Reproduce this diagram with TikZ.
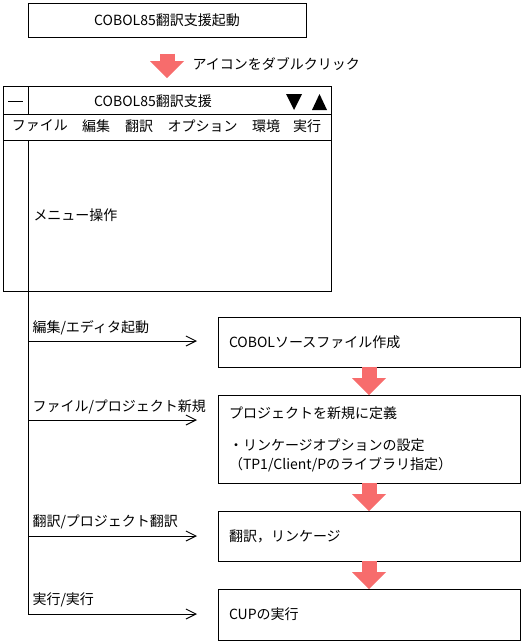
\documentclass[tikz,border=0pt]{standalone}
\usepackage{fontspec}
\newfontfamily\jpfont{Noto Sans CJK JP}
\usetikzlibrary{positioning,arrows.meta}
\definecolor{arrowred}{RGB}{247,108,108}

\begin{document}
\begin{tikzpicture}[x=1pt, y=-1pt, line width=1pt, inner sep=2pt,
    font=\jpfont\fontsize{14}{19}\selectfont,
    box/.style={draw, text width=280pt, inner xsep=11pt, inner ysep=0pt, outer sep=0pt, align=left, minimum height=50pt},
    bigarrow/.style={draw=arrowred, line width=15pt, -{Triangle[length=17pt,width=34pt,line width=0pt]}},
    menuarrow/.style={-{Straight Barb[length=10pt,width=10pt]}, shorten >=21pt}]
    \useasboundingbox (0,0) rectangle (524,643);

    % Start
    \node[draw, minimum width=278pt, minimum height=34pt] (start) at (167,20) {COBOL85翻訳支援起動};
    \node[anchor=west] (dblclick) at (190,64) {アイコンをダブルクリック};

    % Window
    \node[draw, anchor=north west, inner sep=0pt, outer sep=0pt, minimum width=328pt, minimum height=205pt] (win) at (3,86) {};
    \draw[bigarrow, shorten <=16pt, shorten >=8pt] (start.south) -- (win.north);
    \draw (3,114) -- (331,114);
    \draw (3,140) -- (331,140);
    \draw (28,86) -- (28,114);
    \node (sysmenu) at (16,101) {\rule[0pt]{15pt}{1pt}};
    \node (title) at (153,101) {COBOL85翻訳支援};
    \fill (286,94) -- (302,94) -- (294,110) -- cycle;
    \fill (319.5,94) -- (312,110) -- (327,110) -- cycle;
    \node (mfile) at (40,126) {ファイル};
    \node (medit) at (96,126) {編集};
    \node (mtrans) at (139,126) {翻訳};
    \node (mopt) at (202.5,126) {オプション};
    \node (menv) at (266,126) {環境};
    \node (mrun) at (307,126) {実行};
    \node[anchor=west] (menuop) at (31,215) {メニュー操作};

    % Steps
    \node[box] (b1) at (369,342) {COBOLソースファイル作成};
    \node[box, below=28pt of b1, minimum height=88pt] (b2) {プロジェクトを新規に定義\\[13pt]・リンケージオプションの設定\\（TP1/Client/Pのライブラリ指定）};
    \node[box, below=28pt of b2] (b3) {翻訳，リンケージ};
    \node[box, below=28pt of b3, minimum height=51pt] (b4) {CUPの実行};
    \draw[bigarrow] (b1.south) -- (b2.north);
    \draw[bigarrow] (b2.south) -- (b3.north);
    \draw[bigarrow] (b3.south) -- (b4.north);

    % Menu trunk
    \coordinate (t0) at (28,140);
    \coordinate (t1) at (28,341);
    \coordinate (t2) at (28,420);
    \coordinate (t3) at (28,536);
    \coordinate (t4) at (28,614);
    \draw (t0) -- (t4);
    \draw[menuarrow] (t1) -- (t1 -| b1.west);
    \draw[menuarrow] (t2) -- (t2 -| b2.west);
    \draw[menuarrow] (t3) -- (t3 -| b3.west);
    \draw[menuarrow] (t4) -- (t4 -| b4.west);
    \node[anchor=west] (l1) at (30,328) {編集/エディタ起動};
    \node[anchor=west] (l2) at (30,407) {ファイル/プロジェクト新規};
    \node[anchor=west] (l3) at (30,522) {翻訳/プロジェクト翻訳};
    \node[anchor=west] (l4) at (30,600) {実行/実行};
\end{tikzpicture}
\end{document}
